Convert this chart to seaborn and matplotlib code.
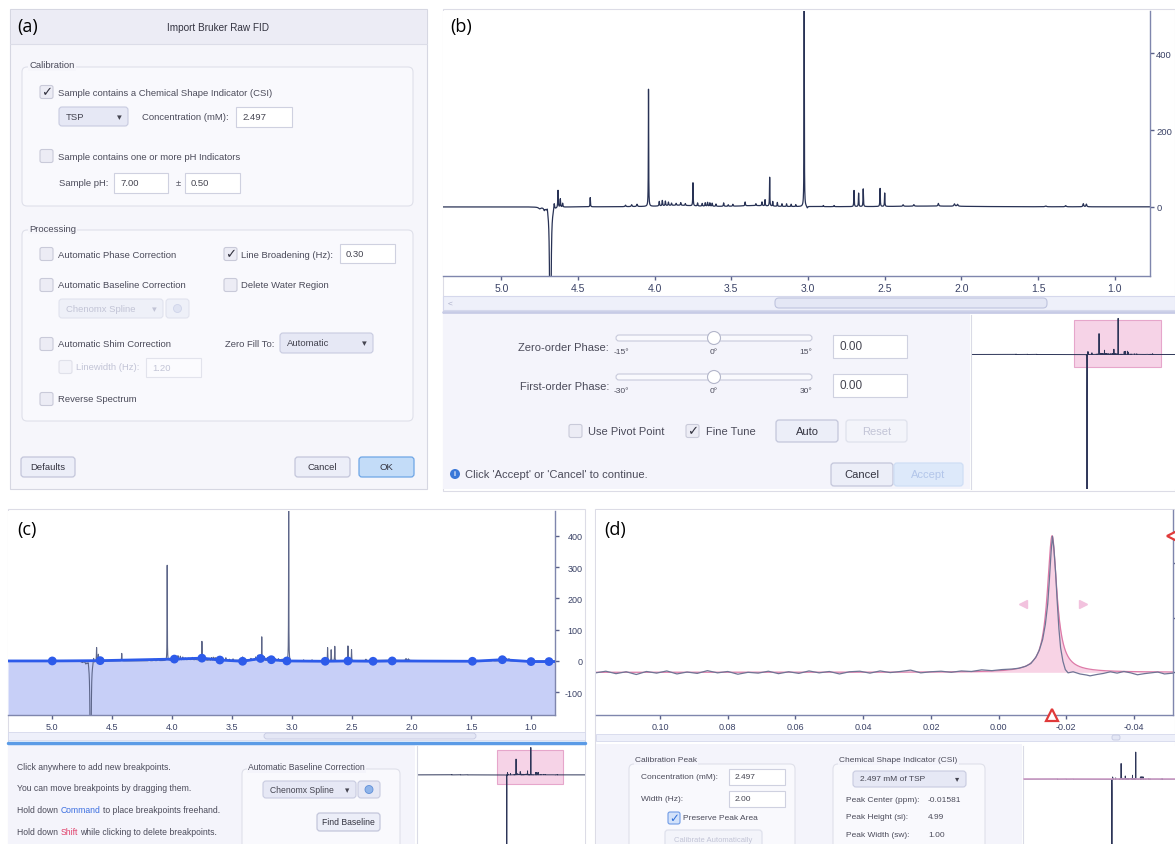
import numpy as np
import pandas as pd
import matplotlib
matplotlib.use("Agg")
import matplotlib.pyplot as plt
import seaborn as sns
from matplotlib.patches import Rectangle, FancyBboxPatch, Circle

W, H = 1175, 845

# ---------------- data ----------------
# NMR peak list (ppm, height, half width) of the sample spectrum used in (b), (c) and the thumbnails
peak_ppm = [8.45, 7.85, 7.35, 4.75, 4.72, 4.70, 4.68, 4.655, 4.63, 4.615, 4.60, 4.42,
            4.19, 4.15, 4.115, 4.04, 3.97, 3.95, 3.93, 3.91, 3.89, 3.86, 3.83, 3.80,
            3.75, 3.72, 3.69, 3.67, 3.655, 3.64, 3.625, 3.60, 3.55, 3.52, 3.49, 3.41,
            3.34, 3.30, 3.28, 3.25, 3.23, 3.20, 3.17, 3.14, 3.11, 3.08, 3.025, 3.005,
            2.90, 2.83, 2.70, 2.67, 2.64, 2.53, 2.50, 2.38, 2.31, 2.15, 2.045, 2.025,
            1.45, 1.32, 1.205, 1.185, 3.85, 3.35, 2.20]
peak_height = [6, 4, 3, -4, -6, 10, -2000, 18, 45, 22, 10, 24,
               4, 5, 6, 305, 12, 14, 12, 9, 6, 5, 7, 5,
               60, 8, 7, 9, 10, 9, 8, 6, 9, 4, 5, 10,
               5, 10, 16, 75, 12, 10, 7, 7, 6, 5, 530, -5,
               3, 3, 42, 35, 46, 47, 35, 4, 4, 7, 6, 5,
               2, 3, 8, 7, 4, 3, 2]
peak_hwhm = [0.003, 0.003, 0.003, 0.008, 0.004, 0.003, 0.0018, 0.003, 0.0018, 0.0018, 0.002, 0.0015,
             0.003, 0.003, 0.003, 0.0012, 0.002, 0.002, 0.002, 0.002, 0.002, 0.002, 0.002, 0.002,
             0.0015, 0.002, 0.002, 0.002, 0.002, 0.002, 0.002, 0.002, 0.002, 0.002, 0.002, 0.002,
             0.002, 0.002, 0.0015, 0.0013, 0.0015, 0.0015, 0.0015, 0.0015, 0.0015, 0.0015, 0.0012, 0.004,
             0.002, 0.002, 0.0015, 0.0015, 0.0015, 0.0015, 0.0015, 0.003, 0.003, 0.003, 0.004, 0.004,
             0.005, 0.004, 0.003, 0.003, 0.12, 0.12, 0.3]

ppm_ticks = [5.0, 4.5, 4.0, 3.5, 3.0, 2.5, 2.0, 1.5, 1.0]
ppm_labels = ["5.0", "4.5", "4.0", "3.5", "3.0", "2.5", "2.0", "1.5", "1.0"]
b_yticks = [0, 200, 400]
c_yticks = [-100, 0, 100, 200, 300, 400]

# (c) baseline breakpoints
break_ppm = [5.37, 5.00, 4.60, 3.98, 3.75, 3.60, 3.41, 3.26, 3.17, 3.04, 2.72, 2.53,
             2.32, 2.16, 1.49, 1.24, 1.00, 0.85, 0.80]
break_val = [0, 0, 1, 6, 9, 3, -1, 8, 4, 0, -1, 0, -1, 0, -1, 4, -2, -2, -2]

# (d) measured TSP region
d_ppm = [0.119, 0.116, 0.113, 0.110, 0.107, 0.104, 0.101, 0.098, 0.095, 0.092, 0.089, 0.086,
         0.083, 0.080, 0.077, 0.074, 0.071, 0.068, 0.065, 0.062, 0.059, 0.056, 0.053, 0.050,
         0.047, 0.044, 0.041, 0.038, 0.035, 0.032, 0.029, 0.026, 0.023, 0.020, 0.017, 0.014,
         0.011, 0.008, 0.005, 0.002, -0.001, -0.004, -0.006, -0.008, -0.0095, -0.011, -0.012,
         -0.013, -0.0138, -0.0145, -0.015, -0.0155, -0.0159, -0.0163, -0.0168, -0.0173, -0.0178,
         -0.0183, -0.0190, -0.0197, -0.0205, -0.022, -0.024, -0.026, -0.027, -0.029, -0.031,
         -0.033, -0.035, -0.037, -0.039, -0.041, -0.043, -0.045, -0.047, -0.049, -0.0515]
d_int = [-0.02, 0.04, -0.05, 0.02, -0.08, 0.03, -0.03, 0.05, -0.06, 0.01, -0.04, 0.06,
         -0.02, 0.03, -0.07, 0.00, -0.03, 0.04, -0.05, 0.02, -0.04, 0.05, -0.02, 0.03,
         -0.06, 0.02, 0.04, -0.03, 0.05, -0.01, 0.03, 0.08, -0.02, 0.02, 0.04, 0.00,
         0.05, 0.03, 0.09, 0.06, 0.10, 0.12, 0.15, 0.22, 0.32, 0.55, 0.80,
         1.20, 1.75, 2.50, 3.40, 4.40, 4.97, 4.55, 3.70, 2.60, 1.60,
         0.90, 0.40, 0.10, -0.02, 0.02, -0.06, -0.10, -0.13, -0.08, -0.04,
         0.02, -0.03, 0.03, -0.02, -0.09, -0.05, -0.02, 0.01, -0.06, -0.03]
d_ticks = [0.10, 0.08, 0.06, 0.04, 0.02, 0.00, -0.02, -0.04]
d_labels = ["0.10", "0.08", "0.06", "0.04", "0.02", "0.00", "-0.02", "-0.04"]
csi_center, csi_height, csi_hwhm = -0.0158, 4.99, 0.0017

# ---------------- style ----------------
sns.set_theme(style="white")
plt.rcParams['font.family'] = ['Liberation Sans', 'DejaVu Sans']

BG = '#f4f4fb'
TXT = '#4b4b5a'
DIS = '#c2c4d6'
AXC = '#3a4266'

fig = plt.figure(figsize=(W / 100, H / 100), dpi=100)
ui = fig.add_axes([0, 0, 1, 1], zorder=0)
ui.set_xlim(0, W)
ui.set_ylim(H, 0)
ui.axis('off')
renderer = fig.canvas.get_renderer()


def px_axes(x0, y0, x1, y1, z=2):
    return fig.add_axes([x0 / W, 1 - y1 / H, (x1 - x0) / W, (y1 - y0) / H], zorder=z)


def rect(x0, y0, x1, y1, fc, ec='none', lw=0.8, r=0, z=1):
    if r:
        p = FancyBboxPatch((x0, y0), x1 - x0, y1 - y0,
                           boxstyle=f"round,pad=0,rounding_size={r}", fc=fc, ec=ec, lw=lw, zorder=z)
    else:
        p = Rectangle((x0, y0), x1 - x0, y1 - y0, fc=fc, ec=ec, lw=lw, zorder=z)
    ui.add_patch(p)


def txt(x, y, s, size=6.8, color=TXT, ha='left', **kw):
    return ui.text(x, y, s, fontsize=size, color=color, ha=ha, va='center', zorder=5, **kw)


def rich(x, y, pieces, size=6.2):
    gap = size * 0.28 * 1.389
    for s, c in pieces:
        t = txt(x, y, s, size=size, color=c)
        x += t.get_window_extent(renderer).width + gap


def checkbox(x, y, checked=False, disabled=False, blue=False, s=13):
    fc, ec = ('#f3f3f9', '#e0e1ea') if disabled else ('#ececf5', '#c9cad9')
    if blue:
        fc, ec = '#d3e2fa', '#6f9be6'
    rect(x, y - s / 2, x + s, y + s / 2, fc=fc, ec=ec, lw=0.8, r=2, z=3)
    if checked:
        txt(x + s / 2 + 0.5, y, '✓', size=9.5 if s > 12 else 8.5,
            color='#2f6fd8' if blue else '#333340', ha='center')


def field(x0, y0, x1, y1, s, size=6.8, disabled=False):
    rect(x0, y0, x1, y1, fc='#fbfbfe' if disabled else 'white', ec='#e2e3ec' if disabled else '#cfd1e0', lw=0.8, z=3)
    txt(x0 + 6, (y0 + y1) / 2, s, size=size, color=DIS if disabled else '#444450')


def button(x0, y0, x1, y1, s, size=6.8, kind='normal'):
    styles = {'normal': ('#eceef8', '#c3c6db', '#333340'),
              'blue': ('#c3dcf8', '#6ea6e6', '#333340'),
              'disabled': ('#f3f4fa', '#dfe1ec', DIS),
              'accept': ('#dde9fa', '#cfdef5', '#b3c6ea')}
    fc, ec, tc = styles[kind]
    rect(x0, y0, x1, y1, fc=fc, ec=ec, lw=0.9, r=3, z=3)
    txt((x0 + x1) / 2, (y0 + y1) / 2, s, size=size, color=tc, ha='center')


def dropdown(x0, y0, x1, y1, s, size=6.8, disabled=False):
    rect(x0, y0, x1, y1, fc='#eef0f8' if disabled else '#e6e8f5',
         ec='#e1e3ee' if disabled else '#c8cbe0', lw=0.8, r=3, z=3)
    c = DIS if disabled else '#444450'
    txt(x0 + 7, (y0 + y1) / 2, s, size=size, color=c)
    txt(x1 - 9, (y0 + y1) / 2, '▾', size=size, color=c, ha='center')


def group(x0, y0, x1, y1, title, lx, ly, size=6.8, bg='#f6f6fb'):
    rect(x0, y0, x1, y1, fc='#f9f9fd', ec='#dfe0ea', lw=0.8, r=5, z=2)
    txt(lx, ly, title, size=size, bbox=dict(fc=bg, ec='none', pad=1))


# ---------------- (a) import dialog ----------------
rect(10, 10, 427, 490, fc='#f6f6fb', ec='#d6d7e2', lw=0.8)
rect(10.5, 10.5, 426.5, 45, fc='#ececf5')
ui.plot([10, 427], [45, 45], color='#dcdde8', lw=0.8, zorder=2)
txt(218, 28, 'Import Bruker Raw FID', size=7.2, color='#333340', ha='center')

group(22, 68, 413, 207, 'Calibration', 29, 66)
checkbox(40, 93, True)
txt(58, 93, 'Sample contains a Chemical Shape Indicator (CSI)')
dropdown(59, 108, 128, 127, 'TSP')
txt(142, 118, 'Concentration (mM):')
field(236, 108, 292, 128, '2.497')
checkbox(40, 157)
txt(58, 157, 'Sample contains one or more pH Indicators')
txt(59, 184, 'Sample pH:')
field(114, 174, 168, 194, '7.00')
txt(176, 184, '±')
field(185, 174, 240, 194, '0.50')

group(22, 231, 413, 422, 'Processing', 29, 229)
checkbox(40, 255)
txt(58, 255, 'Automatic Phase Correction')
checkbox(224, 255, True)
txt(241, 255, 'Line Broadening (Hz):')
field(340, 245, 395, 264, '0.30')
checkbox(40, 286)
txt(58, 286, 'Automatic Baseline Correction')
checkbox(224, 286)
txt(241, 286, 'Delete Water Region')
dropdown(59, 300, 163, 319, 'Chenomx Spline', disabled=True)
rect(166, 300, 189, 319, fc='#eef0f8', ec='#e1e3ee', lw=0.8, r=3, z=3)
ui.add_patch(Circle((177.5, 309.5), 4, fc='#dfe3f2', ec='#cfd4ea', lw=0.6, zorder=4))
checkbox(40, 345)
txt(58, 345, 'Automatic Shim Correction')
txt(225, 345, 'Zero Fill To:')
dropdown(280, 334, 373, 354, 'Automatic')
checkbox(59, 368, disabled=True)
txt(76, 368, 'Linewidth (Hz):', color=DIS)
field(146, 359, 201, 378, '1.20', disabled=True)
checkbox(40, 400)
txt(58, 400, 'Reverse Spectrum')
button(21, 458, 75, 478, 'Defaults')
button(295, 458, 350, 478, 'Cancel')
button(359, 458, 414, 478, 'OK', kind='blue')

# ---------------- spectrum ----------------
grid = np.sort(np.concatenate([np.linspace(11.0, -0.8, 24000), peak_ppm]))[::-1]
spec = np.zeros_like(grid)
for c, h, w in zip(peak_ppm, peak_height, peak_hwhm):
    spec += h / (1 + ((grid - c) / w) ** 2)
spec_df = pd.DataFrame({'ppm': grid, 'intensity': spec})


def style_plot(ax, xt, xl, yt, yl, size, ylab_pad, ylab_ha='right'):
    ax.set_facecolor('white')
    for s in ['top', 'left']:
        ax.spines[s].set_visible(False)
    for s in ['right', 'bottom']:
        ax.spines[s].set_color('#7f86ad')
        ax.spines[s].set_linewidth(1.0)
    ax.set_xticks(xt)
    ax.set_xticklabels(xl)
    ax.yaxis.tick_right()
    ax.set_yticks(yt)
    ax.set_yticklabels(yl)
    ax.tick_params(axis='x', direction='out', length=3, width=1, pad=2, labelsize=size,
                   colors='#5a6189', labelcolor=AXC, bottom=True)
    ax.tick_params(axis='y', direction='out', length=3, width=1, pad=ylab_pad, labelsize=size,
                   colors='#5a6189', labelcolor=AXC, right=True, left=False)
    for lbl in ax.get_yticklabels():
        lbl.set_ha(ylab_ha)
    ax.set_xlabel('')
    ax.set_ylabel('')
    ax.grid(False)


def minimap(ax, xlim, ylim, view=None, color='#2d3558'):
    ax.set_facecolor('white')
    if view is not None:
        ax.add_patch(Rectangle((view[1], view[2]), view[0] - view[1], view[3] - view[2],
                               fc='#f6d3e7', ec='#e6a6cb', lw=0.8, zorder=1))
    sns.lineplot(data=spec_df, x='ppm', y='intensity', ax=ax, color=color, lw=0.7,
                 estimator=None, sort=False, zorder=2)
    ax.set_xlim(*xlim)
    ax.set_ylim(*ylim)
    ax.set_xticks([])
    ax.set_yticks([])
    ax.set_xlabel('')
    ax.set_ylabel('')
    for s in ['top', 'right', 'bottom']:
        ax.spines[s].set_visible(False)
    ax.spines['left'].set_color('#dadbe6')
    ax.spines['left'].set_linewidth(0.8)


# ---------------- (b) phase correction ----------------
rect(443, 10, 1175, 492, fc='white', ec='#dcdce6', lw=0.8)
b_xlim, b_ylim = (5.38, 0.77), (-180, 510)
ax_b = px_axes(443, 12, 1150, 277)
sns.lineplot(data=spec_df, x='ppm', y='intensity', ax=ax_b, color='#283255', lw=0.9,
             estimator=None, sort=False)
ax_b.set_xlim(*b_xlim)
ax_b.set_ylim(*b_ylim)
style_plot(ax_b, ppm_ticks, ppm_labels, b_yticks, [str(v) for v in b_yticks], 7.5, 1.5, ylab_ha='left')
for lbl in ax_b.get_yticklabels():
    lbl.set_fontsize(6.8)

rect(443, 297, 1175, 311, fc='#eef0fa', ec='#d5d8ec', lw=0.8)
rect(775, 299, 1047, 309, fc='#e4e7f5', ec='#bfc4df', lw=0.8, r=4, z=2)
txt(448, 304, '<', size=6, color='#a9adc8')
ui.plot([443, 1175], [313, 313], color='#c7cbe6', lw=2, zorder=2)
rect(443, 315, 970, 490, fc=BG)

for yc, lab, lo, hi in [(348, 'Zero-order Phase:', '-15°', '15°'), (387, 'First-order Phase:', '-30°', '30°')]:
    txt(609, yc, lab, size=8, ha='right')
    ty = yc - 9
    rect(616, ty - 3, 812, ty + 3, fc='#f9f9fd', ec='#c8cadb', lw=0.8, r=3, z=3)
    ui.add_patch(Circle((714, ty), 6.5, fc='white', ec='#b3b6ca', lw=0.8, zorder=4))
    txt(621, yc + 5, lo, size=6, ha='center')
    txt(714, yc + 5, '0°', size=6, ha='center')
    txt(806, yc + 5, hi, size=6, ha='center')
    field(833, yc - 12, 907, yc + 11, '0.00', size=8.5)

checkbox(569, 432)
txt(588, 432, 'Use Pivot Point', size=8)
checkbox(686, 432, True)
txt(706, 432, 'Fine Tune', size=8)
button(776, 421, 838, 443, 'Auto', size=8)
button(846, 421, 907, 443, 'Reset', size=8, kind='disabled')
ui.add_patch(Circle((455, 475), 5, fc='#3a78d8', ec='none', zorder=4))
txt(455, 475, 'i', size=5, color='white', ha='center', fontweight='bold')
txt(465, 475, "Click 'Accept' or 'Cancel' to continue.", size=8)
button(831, 464, 893, 487, 'Cancel', size=8)
button(894, 464, 963, 487, 'Accept', size=8, kind='accept')

ax_bm = px_axes(971, 316, 1175, 490)
minimap(ax_bm, (10.85, 0.0), (-1976, 580), view=(b_xlim[0], b_xlim[1], b_ylim[0], b_ylim[1]))

# ---------------- (c) baseline correction ----------------
rect(8, 510, 585, 845, fc='white', ec='#dcdce6', lw=0.8)
c_xlim, c_ylim = (5.37, 0.80), (-173, 480)
ax_c = px_axes(8, 512, 555, 716)
ax_c.fill_between(break_ppm, break_val, c_ylim[0], color='#c7cff7', lw=0, zorder=1)
sns.lineplot(data=spec_df, x='ppm', y='intensity', ax=ax_c, color='#5d6689', lw=0.8,
             estimator=None, sort=False, zorder=2)
ax_c.plot(break_ppm, break_val, color='#2d5bea', lw=2, zorder=3)
sns.scatterplot(x=break_ppm[1:-1], y=break_val[1:-1], ax=ax_c, color='#2d5bea', s=40,
                edgecolor='none', zorder=4)
ax_c.set_xlim(*c_xlim)
ax_c.set_ylim(*c_ylim)
style_plot(ax_c, ppm_ticks, ppm_labels, c_yticks, [str(v) for v in c_yticks], 6.5, 17)

rect(8, 733, 585, 741, fc='#eef0fa', ec='#d5d8ec', lw=0.6)
rect(264, 734, 476, 740, fc='#e4e7f5', ec='#c6cae2', lw=0.6, r=3, z=2)
ui.plot([8, 585], [743.5, 743.5], color='#5b9be6', lw=2.5, zorder=2)
rect(8, 745, 415, 845, fc=BG)
rich(17, 768, [('Click anywhere to add new breakpoints.', TXT)])
rich(17, 789, [('You can move breakpoints by dragging them.', TXT)])
rich(17, 811, [('Hold down', TXT), ('Command', '#3c6fe0'), ('to place breakpoints freehand.', TXT)])
rich(17, 833, [('Hold down', TXT), ('Shift', '#e0406a'), ('while clicking to delete breakpoints.', TXT)])
group(242, 770, 400, 852, 'Automatic Baseline Correction', 248, 768, size=6.2, bg=BG)
dropdown(263, 782, 356, 799, 'Chenomx Spline', size=6.2)
rect(358, 782, 380, 799, fc='#e6e8f5', ec='#c8cbe0', lw=0.8, r=3, z=3)
ui.add_patch(Circle((369, 790.5), 4, fc='#8fb4ea', ec='#5f8fd8', lw=0.6, zorder=4))
button(317, 814, 380, 832, 'Find Baseline', size=6.2)

ax_cm = px_axes(417, 747, 585, 845)
minimap(ax_cm, (10.85, -0.7), (-1340, 560), view=(c_xlim[0], c_xlim[1], c_ylim[0], c_ylim[1]))

# ---------------- (d) chemical shape indicator ----------------
rect(595, 510, 1175, 845, fc='white', ec='#dcdce6', lw=0.8)
d_xlim, d_ylim = (0.1189, -0.0515), (-1.56, 5.93)
ax_d = px_axes(596, 511, 1173, 716)
fit_x = np.linspace(0.119, -0.0515, 3000)
fit_y = csi_height / (1 + ((fit_x - csi_center) / csi_hwhm) ** 2)
ax_d.fill_between(fit_x, fit_y, 0, color='#f8d3e5', lw=0, zorder=1)
ax_d.plot(fit_x, fit_y, color='#dd7aa8', lw=0.9, zorder=2)
sns.lineplot(x=d_ppm, y=d_int, ax=ax_d, color='#6f7595', lw=0.9, estimator=None, sort=False, zorder=3)
ax_d.set_xlim(*d_xlim)
ax_d.set_ylim(*d_ylim)
style_plot(ax_d, d_ticks, d_labels, [0, 2, 4], ['', '', ''], 6.5, 17)
ax_d.plot([csi_center], [d_ylim[0]], marker='^', ms=8, mfc='white', mec='#e03a3a', mew=1.6,
          clip_on=False, zorder=6)
ax_d.plot([d_xlim[1]], [csi_height], marker='<', ms=8, mfc='white', mec='#e03a3a', mew=1.6,
          clip_on=False, zorder=6)
ax_d.plot([csi_center + 0.0087], [csi_height / 2], marker='<', ms=6, color='#f2c2de', clip_on=False)
ax_d.plot([csi_center - 0.0090], [csi_height / 2], marker='>', ms=6, color='#f2c2de', clip_on=False)

rect(596, 735, 1175, 742, fc='#eef0fa', ec='#d5d8ec', lw=0.6)
rect(1112, 736, 1120, 741, fc='#e4e7f5', ec='#c6cae2', lw=0.6, r=2, z=2)
rect(596, 745, 1022, 845, fc=BG)
group(629, 765, 795, 852, 'Calibration Peak', 635, 761, size=6, bg=BG)
txt(641, 778, 'Concentration (mM):', size=6)
field(729, 770, 785, 786, '2.497', size=6)
txt(641, 800, 'Width (Hz):', size=6)
field(729, 792, 785, 808, '2.00', size=6)
checkbox(668, 819, True, blue=True, s=12)
txt(683, 819, 'Preserve Peak Area', size=6)
button(665, 831, 762, 850, 'Calibrate Automatically', size=5.5, kind='disabled')
group(833, 765, 985, 852, 'Chemical Shape Indicator (CSI)', 839, 761, size=6, bg=BG)
dropdown(853, 772, 966, 788, '2.497 mM of TSP', size=6)
for yy, lab, val in [(801, 'Peak Center (ppm):', '-0.01581'), (818, 'Peak Height (si):', '4.99'),
                     (836, 'Peak Width (sw):', '1.00')]:
    txt(846, yy, lab, size=6)
    txt(928, yy, val, size=6)

ax_dm = px_axes(1023, 747, 1175, 845)
minimap(ax_dm, (10.85, 0.3), (-1270, 650))
ax_dm.axhline(0, color='#d9a6cf', lw=1.1, zorder=3)

# ---------------- panel labels ----------------
for lx, ly, lab in [(17, 27, '(a)'), (450, 27, '(b)'), (17, 530, '(c)'), (604, 530, '(d)')]:
    fig.text(lx / W, 1 - ly / H, lab, fontsize=13, color='black', ha='left', va='center',
             family=['Open Sans', 'DejaVu Sans'], zorder=10)

fig.savefig('out.png', dpi=100)
